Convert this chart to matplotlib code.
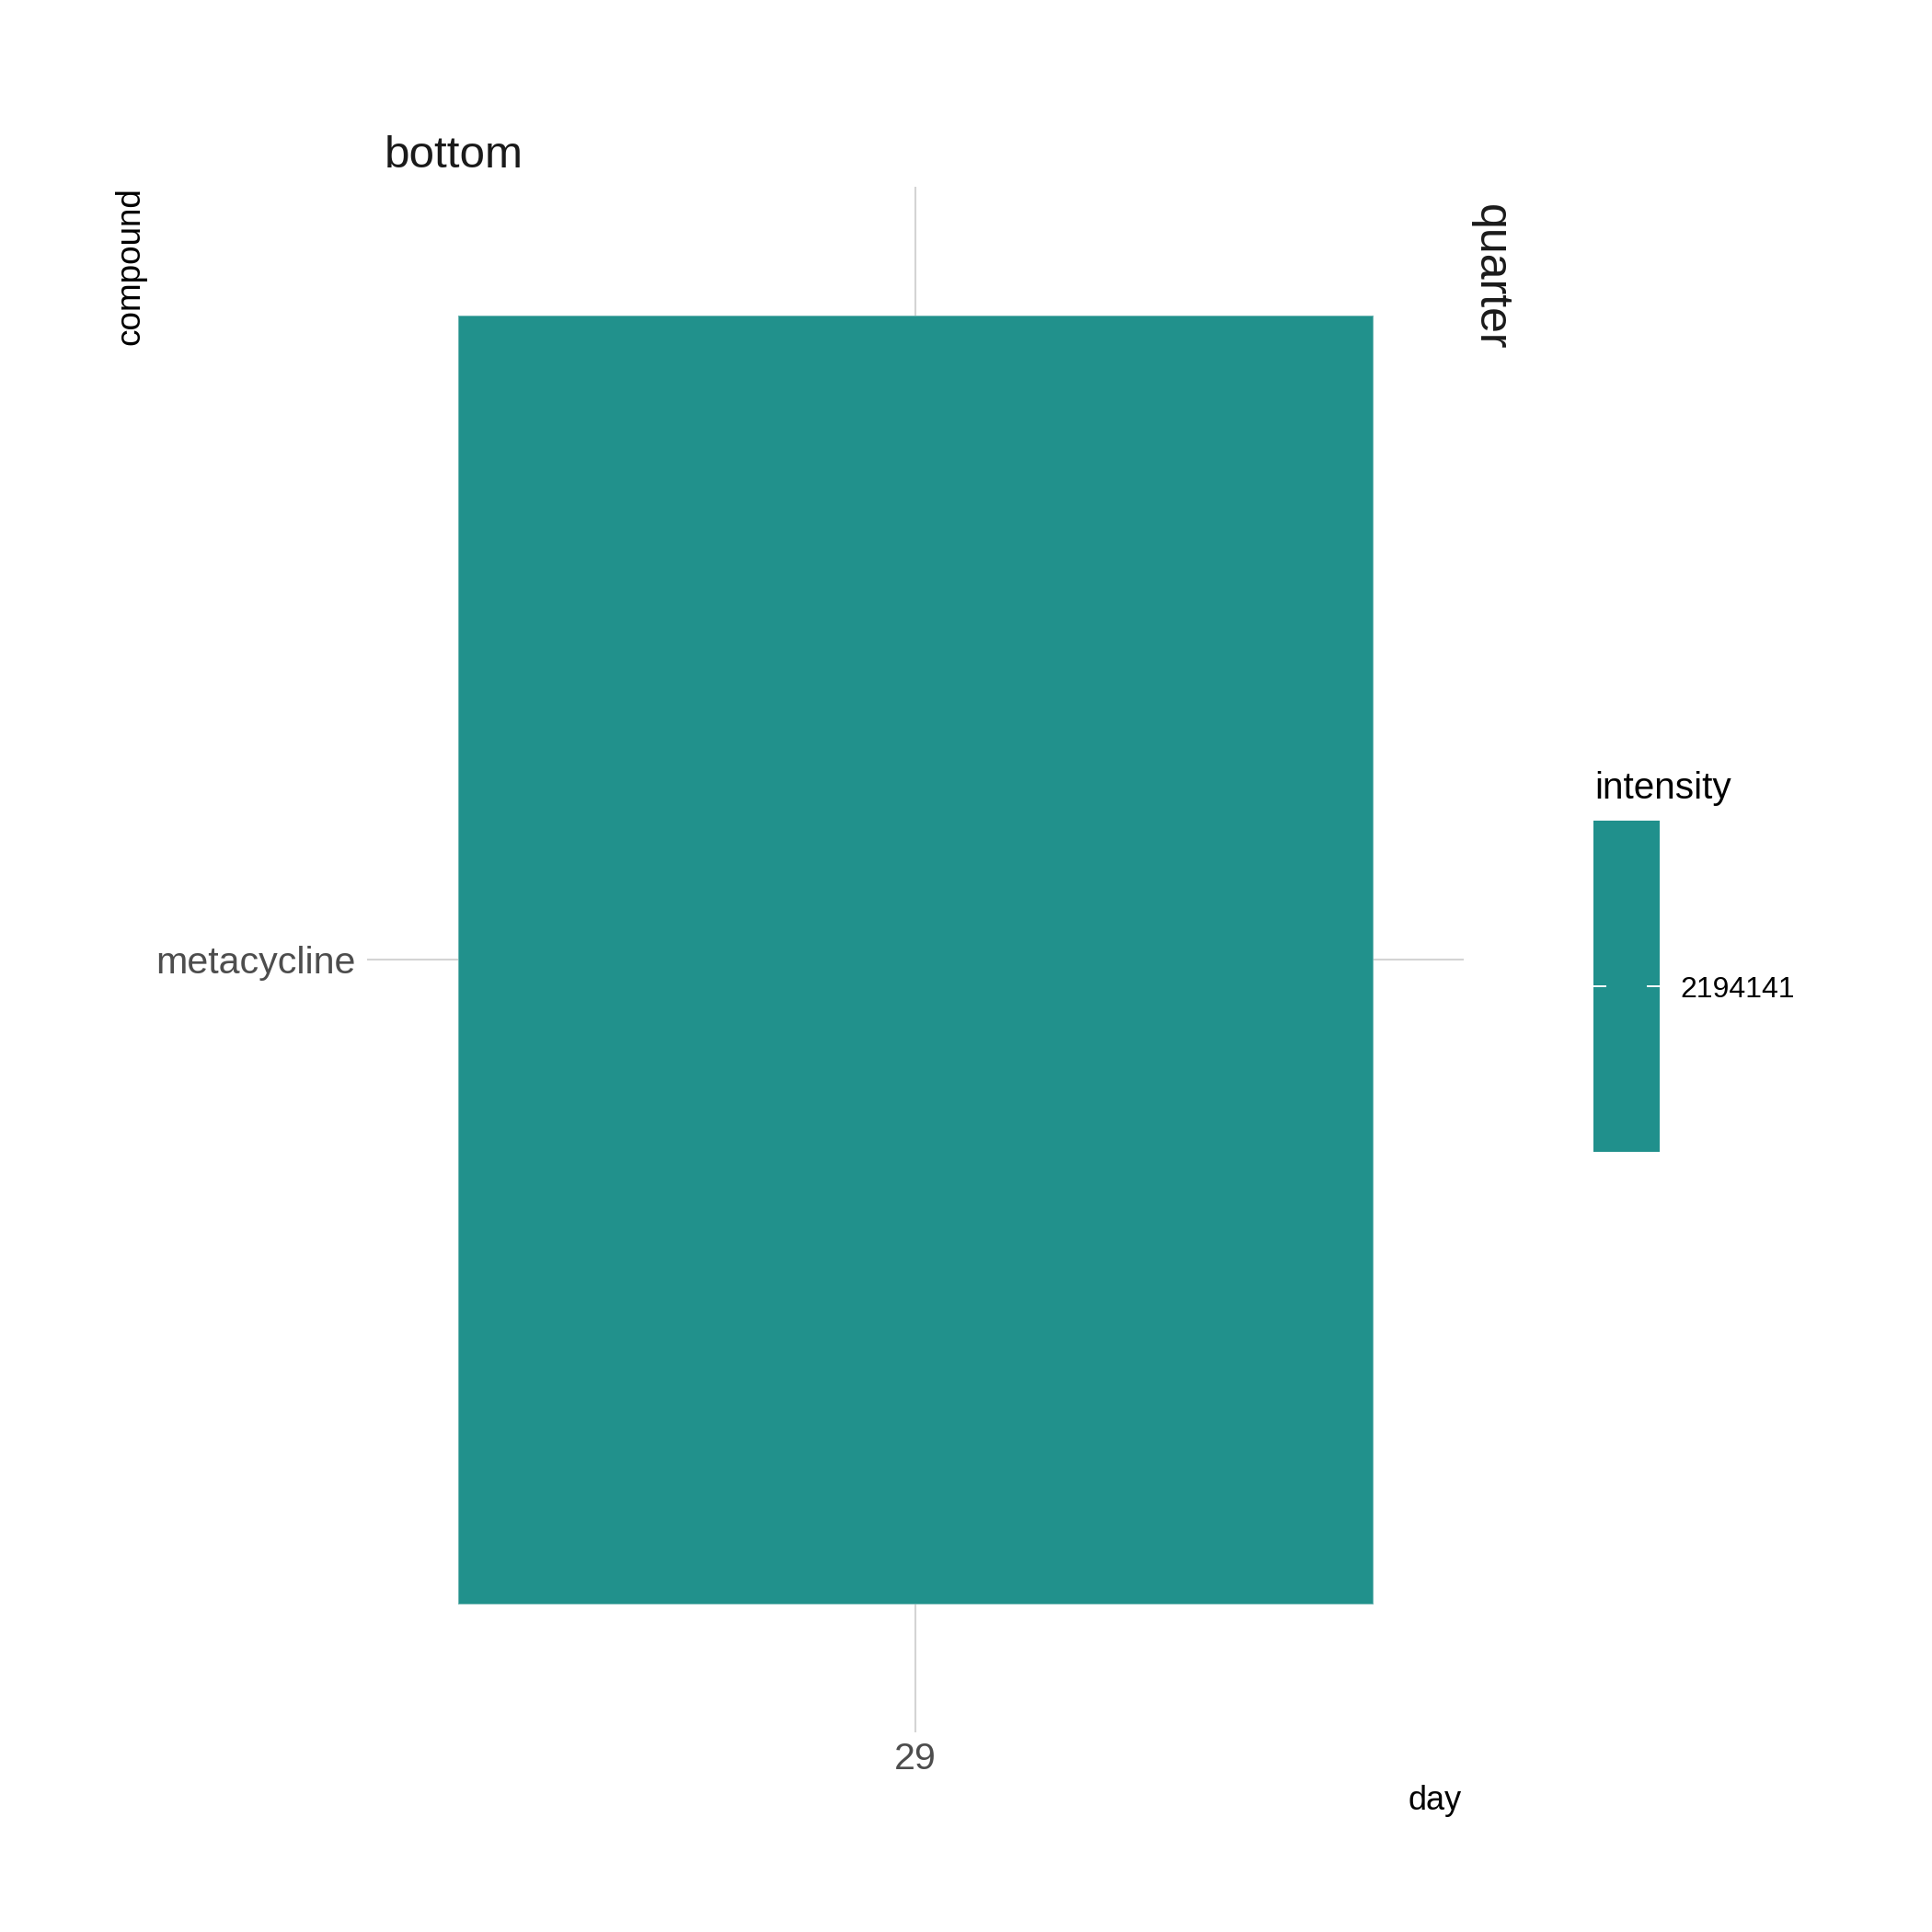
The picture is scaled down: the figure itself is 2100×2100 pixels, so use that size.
import numpy as np
import matplotlib
matplotlib.use("Agg")
import matplotlib.pyplot as plt
from matplotlib.colors import Normalize

plt.rcParams['font.family'] = ['Liberation Sans', 'DejaVu Sans']

# data
days = ["29"]
compounds = ["metacycline"]
intensity = np.array([[2194141]])

W = 2100.0
fig = plt.figure(figsize=(10.5, 10.5), dpi=200)
fig.patch.set_facecolor("white")

# panel (pixel box 399..1591 x 203..1883)
ax = fig.add_axes([399 / W, 1 - 1883 / W, 1192 / W, 1680 / W])
val = intensity[0, 0]
norm = Normalize(vmin=val - 1, vmax=val + 1)
cmap = plt.get_cmap("viridis")

xi = np.arange(len(days))
yi = np.arange(len(compounds))
xe = np.concatenate([xi - 0.5, [xi[-1] + 0.5]])
ye = np.concatenate([yi - 0.5, [yi[-1] + 0.5]])
ax.pcolormesh(xe, ye, intensity, cmap=cmap, norm=norm, zorder=2,
              edgecolor="#6fb6b3", linewidth=0.25)

ax.set_xlim(-0.6, len(days) - 1 + 0.6)
ax.set_ylim(-0.6, len(compounds) - 1 + 0.6)
ax.set_xticks(xi)
ax.set_xticklabels(days)
ax.set_yticks(yi)
ax.set_yticklabels(compounds)
ax.tick_params(axis="both", length=0, labelsize=14.8, labelcolor="#4D4D4D")
ax.tick_params(axis="x", pad=3.6)
ax.tick_params(axis="y", pad=4.3)
ax.grid(True, color="#d4d4d4", linewidth=0.75, zorder=1)
ax.set_axisbelow(True)
for s in ax.spines.values():
    s.set_visible(False)
ax.set_facecolor("white")

# labels placed as in the reference
fig.text(418 / W, 1 - 182 / W, "bottom", fontsize=17.8, color="#1A1A1A",
         ha="left", va="baseline")
fig.text(142 / W, 1 - 203 / W, "compound", fontsize=13.3, rotation=90,
         ha="center", va="top", color="black")
fig.text(1620 / W, 1 - 222 / W, "quarter", fontsize=18, rotation=-90,
         ha="center", va="top", color="#1A1A1A")
fig.text(1589 / W, 1 - 1967 / W, "day", fontsize=13, ha="right",
         va="baseline", color="black")

# colour bar legend
cax = fig.add_axes([1732 / W, 1 - 1252 / W, 72 / W, 360 / W])
cax.imshow(intensity, cmap=cmap, norm=norm, aspect="auto",
           extent=(0, 1, val - 1, val + 1), origin="lower")
cax.set_xlim(0, 1)
cax.set_ylim(val - 1, val + 1)
cax.set_xticks([])
cax.set_yticks([val])
cax.set_yticklabels([str(val)])
cax.yaxis.set_ticks_position("both")
cax.tick_params(axis="y", direction="in", length=5, width=0.7, color="white",
                left=True, right=True, labelleft=False, labelright=True,
                labelsize=11.5, pad=8)
for s in cax.spines.values():
    s.set_visible(False)
fig.text(1733 / W, 1 - 868 / W, "intensity", fontsize=14.6, ha="left",
         va="baseline", color="black")

fig.savefig("out.png", dpi=200, facecolor="white")
